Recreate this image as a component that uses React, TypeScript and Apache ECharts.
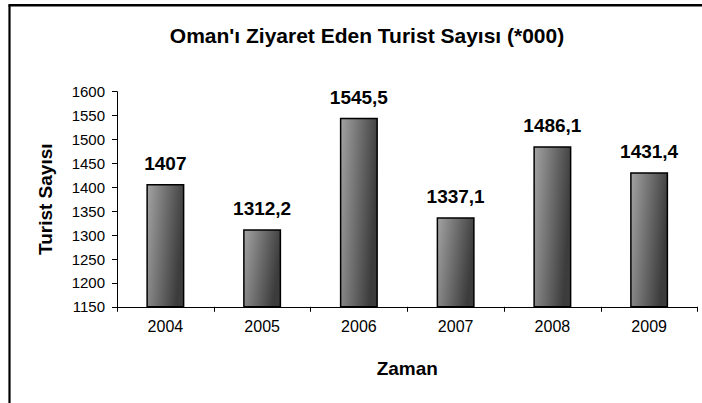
import React, { useEffect, useRef } from "react";
import * as echarts from "echarts";

const categories = ["2004", "2005", "2006", "2007", "2008", "2009"];
const values = [1407, 1312.2, 1545.5, 1337.1, 1486.1, 1431.4];
const yMin = 1150;
const yMax = 1600;
const yStep = 50;
const titleText = "Oman'ı Ziyaret Eden Turist Sayısı (*000)";
const xName = "Zaman";
const yName = "Turist Sayısı";

const FONT = "'Liberation Sans', Arial, sans-serif";

export default function App() {
  const ref = useRef<HTMLDivElement>(null);
  useEffect(() => {
    if (!ref.current) return;
    const chart = echarts.init(ref.current, null, { renderer: "svg" });
    chart.setOption({
      animation: false,
      backgroundColor: "#ffffff",
      textStyle: { fontFamily: FONT, color: "#000" },
      title: {
        text: titleText,
        left: 362,
        top: 20,
        textAlign: "center",
        textStyle: { fontFamily: FONT, fontSize: 21, fontWeight: "bold", color: "#000" },
      },
      grid: {
        left: 117,
        right: 4.5,
        top: 91.7,
        bottom: 96.2,
        containLabel: false,
        outerBoundsMode: "none",
      },
      xAxis: {
        type: "category",
        data: categories,
        boundaryGap: true,
        name: xName,
        nameLocation: "middle",
        nameGap: 52,
        nameTextStyle: { fontFamily: FONT, fontSize: 19, fontWeight: "bold", color: "#000" },
        axisLine: { show: true, lineStyle: { color: "#000", width: 1 } },
        axisTick: { show: true, alignWithLabel: false, length: 5, lineStyle: { color: "#000" } },
        axisLabel: { fontFamily: FONT, fontSize: 16, color: "#000", margin: 12 },
        splitLine: { show: false },
      },
      yAxis: {
        type: "value",
        min: yMin,
        max: yMax,
        interval: yStep,
        name: yName,
        nameLocation: "middle",
        nameRotate: 90,
        nameGap: 62,
        nameTextStyle: { fontFamily: FONT, fontSize: 19, fontWeight: "bold", color: "#000" },
        axisLine: { show: true, lineStyle: { color: "#000", width: 1 } },
        axisTick: { show: true, length: 5, lineStyle: { color: "#000" } },
        axisLabel: {
          fontFamily: FONT,
          fontSize: 15,
          color: "#000",
          margin: 12,
          formatter: (v: number) => String(v),
        },
        splitLine: { show: false },
      },
      series: [
        {
          type: "bar",
          data: values,
          barWidth: 38,
          itemStyle: {
            color: new echarts.graphic.LinearGradient(0, 0, 1, 0.3, [
              { offset: 0, color: "#a3a3a3" },
              { offset: 1, color: "#3c3c3c" },
            ]),
            borderColor: "#000",
            borderWidth: 1.5,
          },
          label: {
            show: true,
            position: "top",
            distance: 11,
            fontFamily: FONT,
            fontSize: 19,
            fontWeight: "bold",
            color: "#000",
            formatter: (p: any) => String(p.value).replace(".", ","),
          },
        },
      ],
      graphic: [
        {
          type: "line",
          shape: { x1: 9.5, y1: 5.3, x2: 9.5, y2: 403 },
          style: { stroke: "#000", lineWidth: 2.2 },
          silent: true,
        },
        {
          type: "line",
          shape: { x1: 8.4, y1: 5.3, x2: 702, y2: 5.3 },
          style: { stroke: "#000", lineWidth: 2.4 },
          silent: true,
        },
      ],
    });
    return () => chart.dispose();
  }, []);
  return (
    <div
      ref={ref}
      style={{ position: "fixed", left: 0, top: 0, width: 702, height: 403 }}
    />
  );
}
